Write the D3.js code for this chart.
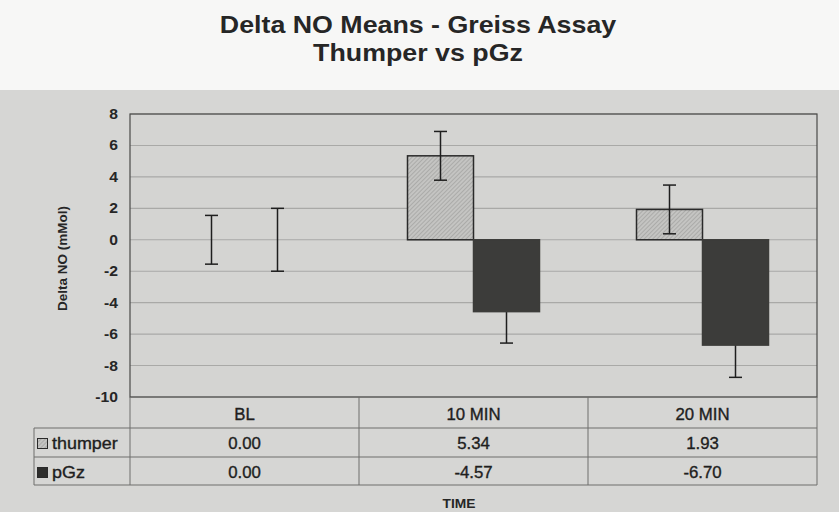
<!DOCTYPE html>
<html><head><meta charset="utf-8">
<script src="https://cdn.jsdelivr.net/npm/d3@7"></script>
<style>
body{margin:0;background:#f7f7f6;}
svg{display:block;font-family:"Liberation Sans",Arial,sans-serif;}
</style></head>
<body><svg id="c" width="839" height="512"></svg>
<script>
const categories = ["BL", "10 MIN", "20 MIN"];
const seriesNames = ["thumper", "pGz"];
const thumperValues = [0.00, 5.34, 1.93];
const pGzValues = [0.00, -4.57, -6.70];
const thumperErrors = [1.55, 1.55, 1.55];
const pGzErrors = [2.0, 2.0, 2.05];
const yTicks = [8, 6, 4, 2, 0, -2, -4, -6, -8, -10];
const titleLines = ["Delta NO Means - Greiss Assay", "Thumper vs pGz"];
const yTitle = "Delta NO (mMol)";
const xTitle = "TIME";

const svg = d3.select("#c");
const defs = svg.append("defs");
const pat = defs.append("pattern").attr("id","hatch").attr("patternUnits","userSpaceOnUse")
  .attr("width",3).attr("height",3).attr("patternTransform","rotate(45)");
pat.append("rect").attr("width",3).attr("height",3).attr("fill","#c4c4c2");
pat.append("line").attr("x1",0).attr("y1",0).attr("x2",0).attr("y2",3).attr("stroke","#929290").attr("stroke-width",1);

function stext(g, x, y, str, sx, opts){
  const t = g.append("text").attr("transform",`translate(${x},${y}) scale(${sx},1)`).text(str);
  Object.entries(opts||{}).forEach(([k,v])=>t.attr(k,v));
  return t;
}

svg.append("rect").attr("x",0).attr("y",0).attr("width",839).attr("height",90).attr("fill","#f7f7f6");
titleLines.forEach((d,i)=>stext(svg, 418, 33+i*28, d, 1.14,
  {"text-anchor":"middle","font-size":23.5,"font-weight":"bold","fill":"#262626"}));

svg.append("rect").attr("x",0).attr("y",90).attr("width",839).attr("height",422).attr("fill","#d6d6d4");

const L=130, R=817, T=114, B=397;
const y = d3.scaleLinear().domain([-10,8]).range([B,T]);
const x0 = d3.scaleBand().domain(categories).range([L,R]).paddingInner(0).paddingOuter(0);
const bw = 66;
const x1 = d3.scaleBand().domain(seriesNames).range([0,2*bw]);
const groupOff = (x0.bandwidth()-2*bw)/2;

svg.append("rect").attr("x",L).attr("y",T).attr("width",R-L).attr("height",B-T).attr("fill","#d4d4d2");
svg.append("g").selectAll("line").data(yTicks).join("line")
  .attr("x1",L).attr("x2",R).attr("y1",d=>y(d)).attr("y2",d=>y(d))
  .attr("stroke","#a9a9a7").attr("stroke-width",1.1);

const tickG = svg.append("g");
yTicks.forEach(t=>stext(tickG, 118, y(t)+5, String(t), 1.12,
  {"text-anchor":"end","font-size":14,"font-weight":"bold","fill":"#262626"}));

svg.append("text").attr("transform",`translate(67,${(T+B)/2+3}) rotate(-90)`)
  .attr("text-anchor","middle").attr("font-size",13.5).attr("font-weight","bold").attr("fill","#262626").text(yTitle);

const data = [thumperValues, pGzValues];
const errs = [thumperErrors, pGzErrors];
const fills = ["url(#hatch)", "#3c3c3a"];
const strokes = ["#2a2a2a", "#3c3c3a"];
function drawBars(si){
  const s = seriesNames[si];
  svg.append("g").selectAll("rect").data(categories.map((c,i)=>({c,v:data[si][i]}))).join("rect")
    .attr("x",d=>x0(d.c)+groupOff+x1(s)).attr("width",x1.bandwidth())
    .attr("y",d=>y(Math.max(0,d.v))).attr("height",d=>Math.abs(y(d.v)-y(0)))
    .attr("fill",fills[si]).attr("stroke",d=>d.v===0?"none":strokes[si]).attr("stroke-width",1.5);
}
function drawErr(si){
  const s = seriesNames[si];
  const g = svg.append("g").attr("stroke","#1e1e1e").attr("stroke-width",1.5);
  categories.forEach((c,i)=>{
    const cx = x0(c)+groupOff+x1(s)+x1.bandwidth()/2;
    const v = data[si][i], e = errs[si][i];
    g.append("line").attr("x1",cx).attr("x2",cx).attr("y1",y(v+e)).attr("y2",y(v-e));
    [v+e, v-e].forEach(t=>g.append("line").attr("x1",cx-6.5).attr("x2",cx+6.5).attr("y1",y(t)).attr("y2",y(t)));
  });
}
drawBars(0);
drawErr(1);
drawBars(1);
drawErr(0);

svg.append("rect").attr("x",L).attr("y",T).attr("width",R-L).attr("height",B-T)
  .attr("fill","none").attr("stroke","#4a4a48").attr("stroke-width",1.2);

// data table
const rowTop = [B, 428, 457];
const tblBottom = 485;
const tblL = 34;
const tg = svg.append("g").attr("stroke","#6e6e6c").attr("stroke-width",1).attr("fill","none");
[rowTop[1], rowTop[2], tblBottom].forEach(yy=>
  tg.append("line").attr("x1",tblL).attr("x2",R).attr("y1",yy).attr("y2",yy));
tg.append("line").attr("x1",tblL).attr("x2",tblL).attr("y1",rowTop[1]).attr("y2",tblBottom);
[L, x0("10 MIN"), x0("20 MIN"), R].forEach(xx=>
  tg.append("line").attr("x1",xx).attr("x2",xx).attr("y1",B).attr("y2",tblBottom));

const tt = svg.append("g");
const tOpts = {"text-anchor":"middle","font-size":16,"fill":"#1e1e1e","stroke":"#1e1e1e","stroke-width":0.35};
categories.forEach((c,i)=>{
  const cx = x0(c)+x0.bandwidth()/2;
  stext(tt, cx, 420, c, 1.05, tOpts);
  stext(tt, cx, 449, thumperValues[i].toFixed(2), 1.05, tOpts);
  stext(tt, cx, 478, pGzValues[i].toFixed(2), 1.05, tOpts);
});
seriesNames.forEach((s,si)=>{
  const yy = rowTop[si+1];
  svg.append("rect").attr("x",37.5).attr("y",yy+10.5).attr("width",10).attr("height",10)
    .attr("fill",si===0?"url(#hatch)":"#2e2e2c").attr("stroke","#2a2a2a").attr("stroke-width",1);
  stext(svg, 52, yy+21, s, 1.12, {"font-size":16,"fill":"#1e1e1e","stroke":"#1e1e1e","stroke-width":0.35});
});

stext(svg, 459, 508, xTitle, 1.15, {"text-anchor":"middle","font-size":12,"font-weight":"bold","fill":"#262626"});
</script></body></html>
